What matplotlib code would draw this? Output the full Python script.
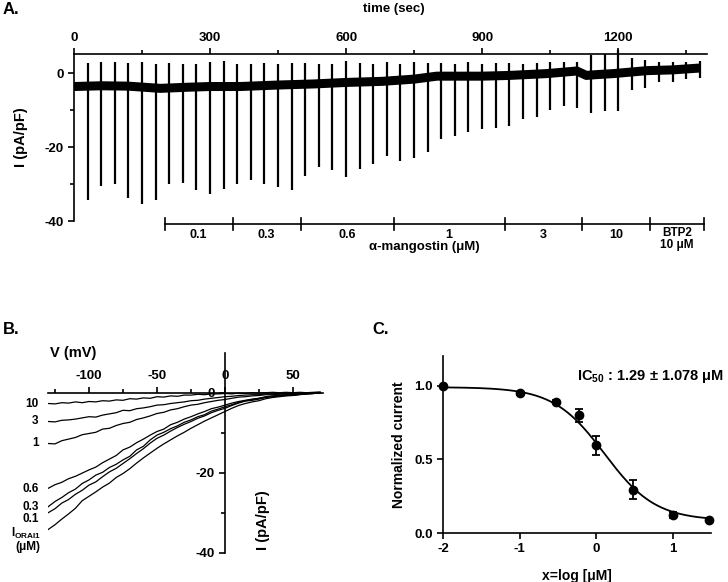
import numpy as np
import matplotlib
matplotlib.use('Agg')
import matplotlib.pyplot as plt
from matplotlib.ticker import FixedLocator

plt.rcParams['font.family'] = ['Liberation Sans', 'DejaVu Sans']
plt.rcParams['font.weight'] = 'bold'
plt.rcParams['axes.labelweight'] = 'bold'
plt.rcParams['axes.unicode_minus'] = False
plt.rcParams['font.size'] = 9
plt.rcParams['mathtext.fontset'] = 'custom'
plt.rcParams['mathtext.rm'] = 'Liberation Sans'
plt.rcParams['mathtext.bf'] = 'Liberation Sans:bold'
plt.rcParams['axes.linewidth'] = 1.2

# ---- Panel A: current trace over time ----
trace_t = [0, 60, 120, 190, 250, 300, 366, 450, 530, 600, 680, 750, 800, 850,
           900, 960, 1043, 1109, 1130, 1150, 1190, 1264, 1320, 1380]
trace_i = [-3.6, -3.4, -3.5, -4.1, -3.8, -3.6, -3.6, -3.2, -2.9, -2.5, -2.2, -1.6, -0.8, -0.8,
           -0.8, -0.6, -0.1, 0.6, -0.6, -0.4, -0.1, 0.7, 0.9, 1.4]

spike_t = [30, 60, 90, 120, 150, 180, 210, 240, 270, 300, 330, 360,
           390, 420, 450, 480, 510, 540, 570, 600, 630, 660, 690, 720, 750, 780, 810, 840, 870,
           900, 930, 960, 990, 1020, 1050, 1080, 1110, 1140, 1170, 1200, 1230, 1260, 1290, 1320,
           1350, 1380]
spike_bottom = [-34.4, -30.5, -29.9, -33.8, -35.5, -34.2, -29.9, -29.6, -31.7, -32.8, -31.4, -29.9,
                -29.0, -30.1, -30.8, -31.5, -27.8, -25.5, -26.3, -28.1, -26.0, -24.5, -22.5, -23.8,
                -23.0, -21.3, -17.9, -17.0, -16.0,
                -15.0, -14.8, -14.3, -12.5, -11.8, -10.0, -8.9, -9.5, -10.9, -10.2, -10.2, -4.5,
                -4.1, -2.5, -2.3, -1.6, -1.4]
spike_top = [2.7, 2.9, 3.0, 2.7, 2.9, 2.6, 2.8, 2.6, 2.5, 2.9, 3.3, 2.4,
             2.4, 2.7, 2.6, 2.7, 2.8, 2.4, 2.6, 3.4, 2.7, 2.6, 2.9, 2.5, 2.9, 2.7, 2.7, 2.4, 2.9,
             2.6, 2.8, 2.7, 2.6, 2.8, 3.0, 2.9, 3.0, 5.0, 5.1, 6.3, 4.1, 3.5, 2.9, 3.0, 3.0, 3.2]

conc_edges = [200, 350, 500, 705, 950, 1120, 1270, 1390]
conc_labels = ['0.1', '0.3', '0.6', '1', '3', '10']

# ---- Panel B: I-V curves ----
iv_v = [-130, -125, -120, -115, -110, -105, -100, -95, -90, -85, -80, -75, -70, -65, -60,
        -55, -50, -45, -40, -35, -30, -25, -20, -15, -10, -5, 0, 5, 10, 15, 20, 25, 30,
        35, 40, 45, 50, 55, 60, 65, 70]
iv_10 = [-2.7, -2.8, -2.5, -2.6, -2.3, -2.5, -2.2, -2.3, -2.0, -2.1, -1.8, -1.9, -1.5, -1.6, -1.3,
         -1.4, -1.0, -1.1, -0.8, -0.9, -0.6, -0.6, -0.4, -0.5, -0.3, -0.3, -0.2, -0.3, -0.1, -0.2,
         0.0, -0.1, 0.0, 0.1, 0.0, 0.1, 0.0, 0.1, 0.0, 0.1, 0.2]
iv_3 = [-7.2, -7.3, -6.9, -6.8, -6.6, -6.3, -6.0, -6.1, -5.6, -5.3, -5.0, -4.4, -4.5, -4.0, -3.8,
        -3.5, -3.1, -3.0, -2.7, -2.5, -2.3, -2.0, -1.9, -1.6, -1.4, -1.2, -1.0, -0.9, -0.7, -0.6,
        -0.5, -0.5, -0.3, -0.3, -0.2, -0.2, -0.2, -0.1, 0.0, -0.1, 0.0]
iv_1 = [-12.7, -12.8, -12.0, -11.6, -11.2, -10.5, -10.2, -9.9, -9.1, -8.9, -8.2, -7.7, -7.4, -6.7,
        -6.3, -5.8, -5.2, -4.9, -4.3, -4.0, -3.5, -3.1, -2.9, -2.5, -2.2, -1.9, -1.7, -1.4, -1.1,
        -1.0, -0.8, -0.7, -0.5, -0.5, -0.4, -0.3, -0.3, -0.2, -0.1, -0.1, 0.0]
iv_06 = [-23.9, -23.0, -22.4, -21.5, -20.9, -20.1, -19.3, -18.6, -17.5, -16.6, -15.7, -14.3, -13.6,
         -12.5, -11.6, -10.6, -9.7, -9.1, -8.0, -7.4, -6.6, -6.0, -5.3, -4.7, -4.0, -3.6, -3.1,
         -2.6, -2.2, -1.9, -1.6, -1.4, -1.0, -0.8, -0.6, -0.5, -0.4, -0.3, -0.2, -0.1, 0.0]
iv_03 = [-28.5, -27.2, -26.2, -25.0, -24.1, -22.7, -21.8, -20.6, -19.9, -18.7, -17.9, -16.8, -15.9,
         -14.3, -13.4, -11.8, -10.6, -9.9, -9.0, -8.3, -7.4, -6.8, -6.0, -5.5, -4.6, -4.1, -3.5,
         -3.0, -2.4, -2.0, -1.7, -1.4, -1.1, -0.9, -0.8, -0.6, -0.6, -0.4, -0.3, -0.2, 0.0]
iv_01 = [-30.0, -29.0, -27.6, -26.7, -25.4, -24.4, -23.1, -22.3, -21.0, -19.8, -18.9, -17.7, -16.5,
         -15.2, -14.0, -12.6, -11.4, -10.6, -9.6, -8.7, -7.9, -7.2, -6.4, -5.8, -5.0, -4.4, -3.9,
         -3.2, -2.6, -2.1, -1.9, -1.6, -1.2, -1.0, -0.8, -0.7, -0.6, -0.4, -0.3, -0.2, 0.0]
iv_orai = [-34.2, -33.0, -31.6, -30.3, -28.9, -27.0, -25.9, -24.8, -23.6, -22.6, -21.2, -20.2, -19.0,
           -17.6, -16.3, -15.1, -13.9, -12.8, -11.8, -10.8, -9.9, -8.9, -8.0, -7.1, -6.3, -5.5, -4.7,
           -3.9, -3.2, -2.7, -2.3, -2.0, -1.5, -1.2, -1.0, -0.8, -0.7, -0.5, -0.3, -0.2, 0.0]
iv_labels = ['10', '3', '1', '0.6', '0.3', '0.1']
iv_label_y = [-2.8, -7.1, -12.6, -24.1, -28.6, -31.6]

# ---- Panel C: dose response ----
dose_conc = [0.01, 0.1, 0.3, 0.6, 1, 3, 10, 30]
dose_mean = [1.0, 0.95, 0.89, 0.80, 0.595, 0.295, 0.12, 0.09]
dose_err = [0.0, 0.01, 0.01, 0.045, 0.065, 0.062, 0.02, 0.0]
fit_top, fit_bottom, fit_ic50, fit_hill = 0.99, 0.085, 1.29, 1.3

W, H = 728, 582
fig = plt.figure(figsize=(W / 100, H / 100), dpi=100)


def px_rect(x0, y0, x1, y1):
    # pixel box (top-left origin) -> figure fraction rect
    return [x0 / W, 1 - y1 / H, (x1 - x0) / W, (y1 - y0) / H]


# Panel A
axA = fig.add_axes(px_rect(74, 54, 707, 221))
axA.plot(trace_t, trace_i, color='black', lw=6.5, solid_capstyle='butt', solid_joinstyle='round')
axA.vlines(spike_t, spike_bottom, spike_top, color='black', lw=1.6, clip_on=False)
axA.set_xlim(0, 1396)
axA.set_ylim(-40, 5.2)
axA.spines['bottom'].set_visible(False)
axA.spines['right'].set_visible(False)
axA.xaxis.tick_top()
axA.xaxis.set_major_locator(FixedLocator([0, 300, 600, 900, 1200]))
axA.xaxis.set_minor_locator(FixedLocator([150, 450, 750, 1050, 1350]))
axA.yaxis.set_major_locator(FixedLocator([0, -20, -40]))
axA.yaxis.set_minor_locator(FixedLocator([-10, -30]))
axA.tick_params(which='both', direction='out', width=1.2, labelsize=9.5)
axA.tick_params(which='major', length=4)
axA.tick_params(which='minor', length=3)
axA.set_ylabel('I (pA/pF)', fontsize=10.5, labelpad=12)
fig.text(394 / W, 1 - 9 / H, 'time (sec)', ha='center', va='center', fontsize=9.5)
fig.text(0.003, 1 - 10 / H, 'A.', ha='left', va='center', fontsize=12)

# concentration bar under the trace
bar_y = -40.8
axA.plot([conc_edges[0], conc_edges[-1]], [bar_y, bar_y], color='black', lw=1.2, clip_on=False)
for e in conc_edges:
    axA.plot([e, e], [bar_y + 1.7, bar_y - 1.6], color='black', lw=1.2, clip_on=False)
for i, lab in enumerate(conc_labels):
    axA.text((conc_edges[i] + conc_edges[i + 1]) / 2, -43.9, lab,
             ha='center', va='center', fontsize=9, clip_on=False)
axA.text((conc_edges[-2] + conc_edges[-1]) / 2, -44.9, 'BTP2\n10 μM', ha='center', va='center',
         fontsize=8.5, linespacing=1.05)
axA.text(772, -47.0, 'α-mangostin (μM)', ha='center', va='center', fontsize=9.5)

# Panel B
axB = fig.add_axes(px_rect(48.2, 352.7, 322.9, 552.7))
for cur in [iv_10, iv_3, iv_1, iv_06, iv_03, iv_01, iv_orai]:
    axB.plot(iv_v, cur, color='black', lw=0.9)
axB.set_xlim(-130, 72)
axB.set_ylim(-40, 10)
axB.spines['right'].set_visible(False)
axB.spines['bottom'].set_visible(False)
axB.spines['top'].set_position(('data', 0))
axB.spines['left'].set_position(('data', 0))
axB.xaxis.tick_top()
axB.xaxis.set_major_locator(FixedLocator([-100, -50, 0, 50]))
axB.xaxis.set_minor_locator(FixedLocator([-125, -75, -25, 25]))
axB.yaxis.set_major_locator(FixedLocator([0, -20, -40]))
axB.yaxis.set_minor_locator(FixedLocator([-30, -10]))
axB.tick_params(which='both', direction='out', width=1.2, labelsize=9.5)
axB.tick_params(which='major', length=4)
axB.tick_params(which='minor', length=3)
for lab, y in zip(iv_labels, iv_label_y):
    axB.text(-137, y, lab, ha='right', va='center', fontsize=8.5, clip_on=False)
axB.text(-135, -35.1, r'I$_{\mathbf{ORAI1}}$', ha='right', va='center', fontsize=8.5, clip_on=False)
axB.text(-136, -38.6, '(μM)', ha='right', va='center', fontsize=8.5, clip_on=False)
axB.text(-129, 9.9, 'V (mV)', ha='left', va='center', fontsize=10.5)
axB.text(28, -31.8, 'I (pA/pF)', rotation=90, ha='center', va='center', fontsize=10.5)
fig.text(0.004, 1 - 330 / H, 'B.', ha='left', va='center', fontsize=12)

# Panel C
axC = fig.add_axes(px_rect(443.3, 356.2, 710.7, 533))
log_x = np.log10(dose_conc)
fit_x = np.linspace(-2, 1.5, 300)
fit_y = fit_bottom + (fit_top - fit_bottom) / (1 + 10 ** ((fit_x - np.log10(fit_ic50)) * fit_hill))
axC.plot(fit_x, fit_y, color='black', lw=1.3)
axC.errorbar(log_x, dose_mean, yerr=dose_err, fmt='o', color='black', ms=6,
             capsize=3, elinewidth=1.3, capthick=1.3, clip_on=False)
axC.set_xlim(-2, 1.5)
axC.set_ylim(0, 1.2)
axC.spines['right'].set_visible(False)
axC.spines['top'].set_visible(False)
axC.set_xticks([-2, -1, 0, 1])
axC.set_yticks([0, 0.5, 1.0])
axC.set_yticklabels(['0.0', '0.5', '1.0'])
axC.tick_params(direction='out', length=4, width=1.2, labelsize=9.5)
axC.set_xlabel('x=log [μM]', fontsize=10, labelpad=10)
axC.set_ylabel('Normalized current', fontsize=10, labelpad=6)
axC.text(-0.25, 1.06, r'IC$_{\mathbf{50}}$ : 1.29 ± 1.078 μM', ha='left', va='center', fontsize=10.5)
fig.text(372 / W, 1 - 330 / H, 'C.', ha='left', va='center', fontsize=12)

fig.savefig('out.png', dpi=100)
